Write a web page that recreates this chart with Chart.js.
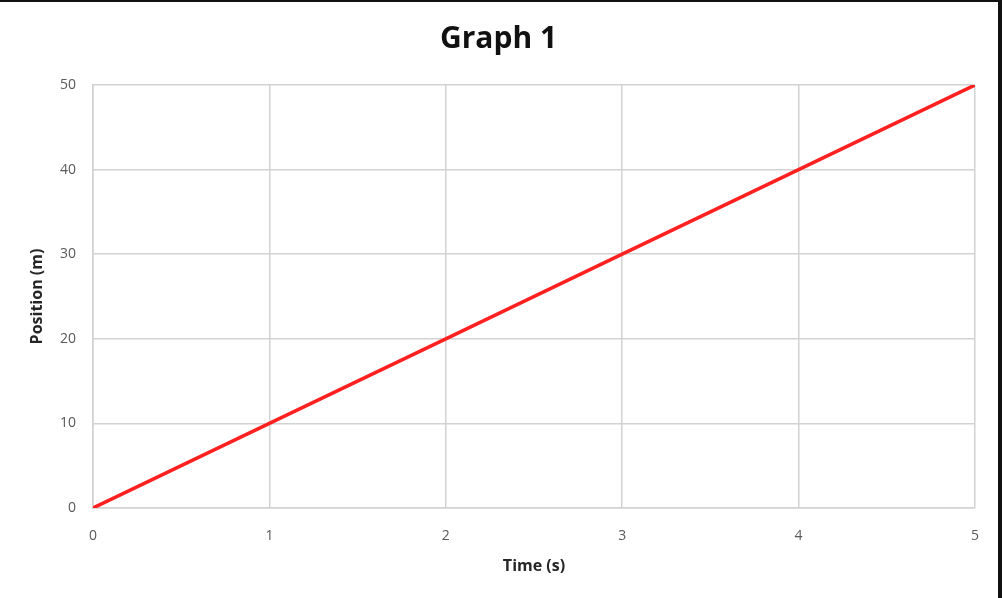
<!DOCTYPE html>
<html>
<head>
<meta charset="utf-8">
<script src="https://cdn.jsdelivr.net/npm/chart.js@4/dist/chart.umd.min.js"></script>
<style>
  html, body { margin: 0; padding: 0; background: #fff; }
  #wrap { position: relative; width: 1002px; height: 598px; overflow: hidden; }
  /* dark frame visible at top and right of the screenshot */
  #wrap::before { content: ""; position: absolute; left: 0; top: 0; width: 1002px; height: 2px; background: #111; }
  #wrap::after { content: ""; position: absolute; right: 0; top: 0; width: 4px; height: 598px; background: #111; }
</style>
</head>
<body>
<div id="wrap"><canvas id="chart" width="1002" height="598"></canvas></div>
<script>
// time values (s) and matching positions (m)
const times = [0, 1, 2, 3, 4, 5];
const positions = [0, 10, 20, 30, 40, 50];

const xTicks = [0, 1, 2, 3, 4, 5];
const yTicks = [0, 10, 20, 30, 40, 50];

const points = times.map((t, i) => ({ x: t, y: positions[i] }));

const tickFont = { family: "'Open Sans', sans-serif", size: 14 };

new Chart(document.getElementById("chart"), {
  type: "line",
  data: {
    datasets: [{
      data: points,
      borderColor: "#ff2020",
      borderWidth: 3.5,
      pointRadius: 0,
      tension: 0,
      fill: false
    }]
  },
  options: {
    responsive: false,
    animation: false,
    // left/right padding balanced so the title sits near the page centre
    layout: { padding: { left: 11, right: 16, top: 0, bottom: 0 } },
    plugins: {
      legend: { display: false },
      tooltip: { enabled: false },
      title: {
        display: true,
        text: "Graph 1",
        color: "#111",
        font: { family: "'Open Sans', sans-serif", size: 30, weight: "bold" },
        padding: { top: 21, bottom: 28 }
      }
    },
    scales: {
      x: {
        type: "linear",
        min: 0,
        max: 5,
        afterBuildTicks: axis => { axis.ticks = xTicks.map(v => ({ value: v })); },
        afterFit: axis => {
          axis.height = 90;
          axis.paddingRight = 27; // plot ends at x=975 like the reference
        },
        grid: { color: "#d2d2d2", lineWidth: 1.5, drawTicks: false },
        border: { color: "#d2d2d2", width: 1.5 },
        ticks: { color: "#595959", font: tickFont, padding: 20 },
        title: {
          display: true,
          text: "Time (s)",
          color: "#262626",
          font: { family: "'Open Sans', sans-serif", size: 16, weight: "bold" },
          padding: { top: 0, bottom: 22 }
        }
      },
      y: {
        type: "linear",
        min: 0,
        max: 50,
        afterBuildTicks: axis => { axis.ticks = yTicks.map(v => ({ value: v })); },
        afterFit: axis => { axis.width = 82; },
        grid: { color: "#d2d2d2", lineWidth: 1.5, drawTicks: false },
        border: { color: "#d2d2d2", width: 1.5 },
        ticks: { color: "#595959", font: tickFont, padding: 17 },
        title: {
          display: true,
          text: "Position (m)",
          color: "#262626",
          font: { family: "'Open Sans', sans-serif", size: 16, weight: "bold" },
          padding: { top: 17, bottom: 0 }
        }
      }
    }
  }
});
</script>
</body>
</html>
